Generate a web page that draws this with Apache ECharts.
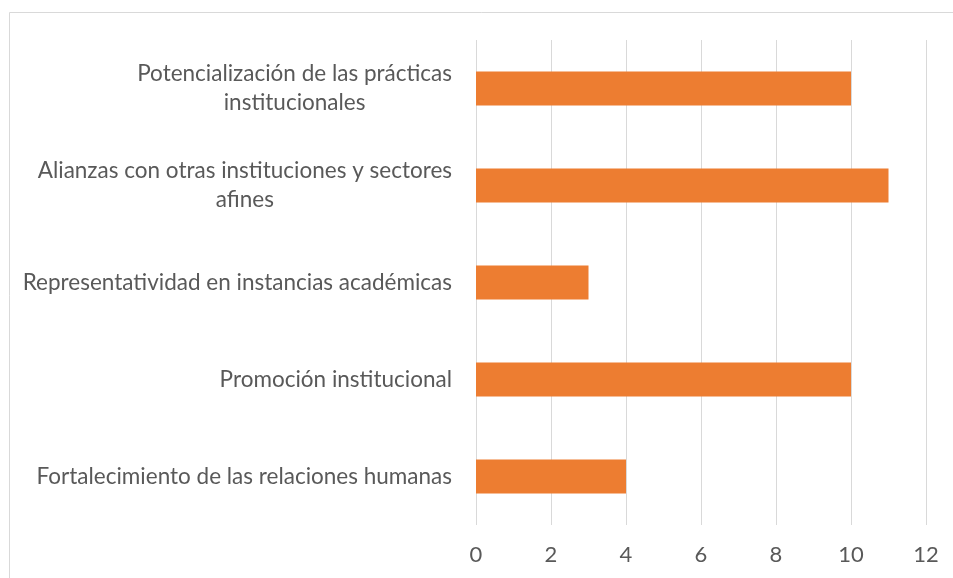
<!DOCTYPE html>
<html><head><meta charset="utf-8">
<script src="https://cdn.jsdelivr.net/npm/echarts@6/dist/echarts.min.js"></script>
<style>html,body{margin:0;padding:0;background:#fff}#c{width:953px;height:578px}</style>
</head><body><div id="c"></div>
<script>
const categories = [
  "Potencialización de las prácticas\ninstitucionales",
  "Alianzas con otras instituciones y sectores\nafines",
  "Representatividad en instancias académicas",
  "Promoción institucional",
  "Fortalecimiento de las relaciones humanas"
];
const values = [10, 11, 3, 10, 4];
const xTicks = { min: 0, max: 12, interval: 2 };

const FONT = "Lato";
const chart = echarts.init(document.getElementById('c'), null, {renderer: 'canvas'});
chart.setOption({
  animation: false,
  backgroundColor: '#fff',
  graphic: [{
    type: 'rect', left: 7, top: 10, z: -1,
    shape: {width: 1000, height: 1000},
    style: {fill: 'none', stroke: '#d9d9d9', lineWidth: 1}
  }],
  grid: {left: 476, right: 27, top: 40, bottom: 53, containLabel: false},
  xAxis: {
    type: 'value', min: xTicks.min, max: xTicks.max, interval: xTicks.interval,
    axisLine: {show: false}, axisTick: {show: false},
    splitLine: {show: true, lineStyle: {color: '#d9d9d9', width: 1}},
    axisLabel: {color: '#595959', fontFamily: FONT, fontSize: 22, margin: 19}
  },
  yAxis: {
    type: 'category', inverse: true, data: categories,
    axisLine: {show: false}, axisTick: {show: false}, splitLine: {show: false},
    axisLabel: {
      color: '#595959', fontFamily: FONT, fontSize: 22.5, margin: 24, align: 'right', lineHeight: 29,
      formatter: v => v.split('\n').map(l => '{c|' + l + '}').join('\n'),
      rich: {c: {align: 'center', color: '#595959', fontFamily: FONT, fontSize: 22.5, lineHeight: 29}}
    }
  },
  series: [{
    type: 'bar', data: values, barWidth: '35%',
    itemStyle: {color: '#ED7D31'}
  }]
});
</script></body></html>
